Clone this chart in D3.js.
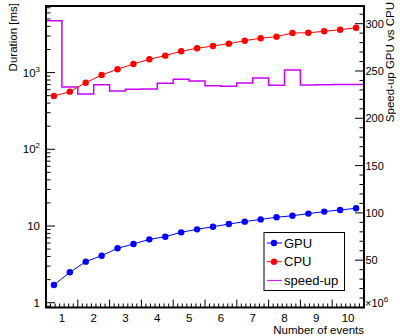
<!DOCTYPE html>
<html>
<head>
<meta charset="utf-8">
<script src="https://cdn.jsdelivr.net/npm/d3@7"></script>
<style>
  body { margin: 0; background: #fff; }
  svg { display: block; font-family: "Liberation Sans", Arial, sans-serif; }
</style>
</head>
<body>
<div id="chart"></div>
<script>
// Number of events (x 10^6), bin centres
const events = [0.75, 1.25, 1.75, 2.25, 2.75, 3.25, 3.75, 4.25, 4.75, 5.25,
  5.75, 6.25, 6.75, 7.25, 7.75, 8.25, 8.75, 9.25, 9.75, 10.25];
// Duration [ms]
const gpu = [1.70, 2.49, 3.43, 4.10, 5.12, 5.82, 6.70, 7.25, 8.27, 9.05,
  9.79, 10.6, 11.4, 12.2, 13.0, 13.6, 14.5, 15.4, 16.2, 17.0];
const cpu = [495, 564, 738, 930, 1105, 1294, 1490, 1663, 1898, 2075,
  2223, 2382, 2606, 2800, 2940, 3283, 3300, 3455, 3625, 3848];
// Speed-up GPU vs CPU, one value per bin
const speedup = [303, 233, 225.6, 235.5, 228.9, 230.7, 231, 237, 241.2, 239.4,
  234.5, 233.8, 237.3, 242.6, 234.9, 251.1, 235.2, 235.5, 235.7, 235.8];
const xLabels = [1, 2, 3, 4, 5, 6, 7, 8, 9, 10];
const rightTicks = [50, 100, 150, 200, 250, 300];
const series = [
  { name: 'GPU', values: gpu, color: '#0000ff' },
  { name: 'CPU', values: cpu, color: '#ff0000' },
];

const width = 400;
const height = 336;
const frame = { left: 46, right: 364, top: 6, bottom: 307.5 };
const binWidth = 0.5;

const svg = d3.select('#chart').append('svg').attr('width', width).attr('height', height);

const x = d3.scaleLinear().domain([0.5, 10.5]).range([frame.left, frame.right]);
const yL = d3.scaleLog().domain([0.866, 7380]).range([frame.bottom, frame.top]);
const yR = d3.scaleLinear().domain([0, 318.7]).range([frame.bottom, frame.top]);

const tickColor = '#000';

/* X axis
=========================================================================*/
const majorX = d3.range(0.5, 10.51, 1);
const minorX = [];
majorX.slice(0, -1).forEach((m) => {
  for (let k = 1; k < 7; k++) minorX.push(m + k / 7);
});
const xt = svg.append('g');
xt.selectAll('line.maj').data(majorX).enter().append('line')
  .attr('x1', (d) => x(d)).attr('x2', (d) => x(d))
  .attr('y1', frame.bottom).attr('y2', frame.bottom - 8)
  .attr('stroke', tickColor);
xt.selectAll('line.min').data(minorX).enter().append('line')
  .attr('x1', (d) => x(d)).attr('x2', (d) => x(d))
  .attr('y1', frame.bottom).attr('y2', frame.bottom - 4)
  .attr('stroke', tickColor);
xt.selectAll('text').data(xLabels).enter().append('text')
  .attr('x', (d) => x(d)).attr('y', 321.5)
  .attr('text-anchor', 'middle').style('font-size', '11.5px')
  .text((d) => d);

svg.append('text').attr('x', frame.right).attr('y', 334)
  .attr('text-anchor', 'end').style('font-size', '11.5px')
  .text('Number of events');

const mult = svg.append('text').attr('x', 365).attr('y', 307).style('font-size', '11px');
mult.append('tspan').text('×10');
mult.append('tspan').attr('dy', -5).style('font-size', '8px').text('6');

/* Left (log) axis
=========================================================================*/
const decades = [1, 10, 100, 1000];
const minorL = [];
[0.1, 1, 10, 100, 1000].forEach((dec) => {
  for (let k = 2; k <= 9; k++) {
    const v = dec * k;
    if (v > yL.domain()[0] && v < yL.domain()[1]) minorL.push(v);
  }
});
const yt = svg.append('g');
yt.selectAll('line.maj').data(decades).enter().append('line')
  .attr('x1', frame.left).attr('x2', frame.left + 9)
  .attr('y1', (d) => yL(d)).attr('y2', (d) => yL(d))
  .attr('stroke', tickColor);
yt.selectAll('line.min').data(minorL).enter().append('line')
  .attr('x1', frame.left).attr('x2', frame.left + 4.5)
  .attr('y1', (d) => yL(d)).attr('y2', (d) => yL(d))
  .attr('stroke', tickColor);
const decLabels = yt.selectAll('text').data(decades).enter().append('text')
  .attr('x', 40).attr('y', (d) => yL(d) + 4)
  .attr('text-anchor', 'end').style('font-size', '11.5px');
decLabels.each(function (d) {
  const t = d3.select(this);
  if (d < 100) {
    t.text(d);
  } else {
    t.append('tspan').text('10');
    t.append('tspan').attr('dy', -5).style('font-size', '8px').text(Math.log10(d));
  }
});

svg.append('text')
  .attr('transform', `translate(17, 3) rotate(-90)`)
  .attr('text-anchor', 'end').style('font-size', '11.5px')
  .text('Duration [ms]');

/* Right axis
=========================================================================*/
const rt = svg.append('g');
rt.selectAll('line.maj').data(rightTicks).enter().append('line')
  .attr('x1', frame.right).attr('x2', frame.right - 9)
  .attr('y1', (d) => yR(d)).attr('y2', (d) => yR(d))
  .attr('stroke', tickColor);
rt.selectAll('line.min').data(d3.range(10, 318, 10).filter((d) => d % 50 !== 0)).enter().append('line')
  .attr('x1', frame.right).attr('x2', frame.right - 4.5)
  .attr('y1', (d) => yR(d)).attr('y2', (d) => yR(d))
  .attr('stroke', tickColor);
rt.selectAll('text').data(rightTicks).enter().append('text')
  .attr('x', 365.5).attr('y', (d) => yR(d) + 4)
  .style('font-size', '11px')
  .text((d) => d);

svg.append('text')
  .attr('transform', `translate(394, 2) rotate(-90)`)
  .attr('text-anchor', 'end').style('font-size', '11.5px')
  .text('Speed-up GPU vs CPU');

/* Speed-up histogram
=========================================================================*/
const plot = svg.append('g');
const steps = events.map((e, i) => [e - binWidth / 2, speedup[i]]);
steps.push([events[events.length - 1] + binWidth / 2, speedup[speedup.length - 1]]);
plot.append('path')
  .datum(steps)
  .attr('fill', 'none').attr('stroke', '#cc00ff').attr('stroke-width', 1.5)
  .attr('d', d3.line().x((d) => x(d[0])).y((d) => yR(d[1])).curve(d3.curveStepAfter));

/* Duration series
=========================================================================*/
const line = d3.line().x((d) => x(d[0])).y((d) => yL(d[1]));
series.forEach((s) => {
  const pts = events.map((e, i) => [e, s.values[i]]);
  plot.append('path').datum(pts)
    .attr('fill', 'none').attr('stroke', s.color).attr('stroke-width', 1)
    .attr('d', line);
  plot.selectAll(null).data(pts).enter().append('circle')
    .attr('cx', (d) => x(d[0])).attr('cy', (d) => yL(d[1]))
    .attr('r', 3.2).attr('fill', s.color);
});

/* Frame
=========================================================================*/
svg.append('rect')
  .attr('x', frame.left).attr('y', frame.top)
  .attr('width', frame.right - frame.left).attr('height', frame.bottom - frame.top)
  .attr('fill', 'none').attr('stroke', '#000').attr('stroke-width', 2);

/* Legend
=========================================================================*/
const legend = svg.append('g').attr('transform', 'translate(264, 232.5)');
legend.append('rect').attr('width', 80.5).attr('height', 58)
  .attr('fill', '#fff').attr('stroke', '#000').attr('stroke-width', 1);
const items = [...series, { name: 'speed-up', color: '#cc00ff' }];
items.forEach((it, i) => {
  const cy = 10.5 + i * 18.7;
  legend.append('line').attr('x1', 3).attr('x2', 18).attr('y1', cy).attr('y2', cy)
    .attr('stroke', it.color).attr('stroke-width', 1);
  if (it.values) legend.append('circle').attr('cx', 10).attr('cy', cy).attr('r', 3.2).attr('fill', it.color);
  legend.append('text').attr('x', 20).attr('y', cy + 4.5)
    .style('font-size', '13px').text(it.name);
});
</script>
</body>
</html>
